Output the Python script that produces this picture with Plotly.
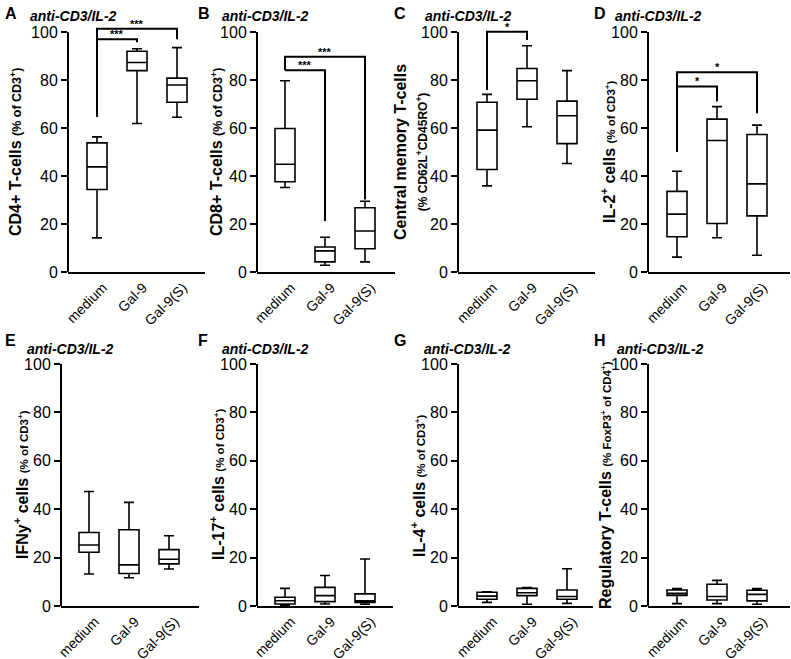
import plotly.graph_objects as go

groups = ["medium", "Gal-9", "Gal-9(S)"]
letters = ["A", "B", "C", "D", "E", "F", "G", "H"]
stim = "anti-CD3/IL-2"

y_titles = [
    "<b>CD4+ T-cells <span style='font-size:12.5px'>(% of CD3<sup>+</sup>)</span></b>",
    "<b>CD8+ T-cells <span style='font-size:12.5px'>(% of CD3<sup>+</sup>)</span></b>",
    "<b>Central memory T-cells<br><span style='font-size:12px'>(% CD62L<sup>+</sup>CD45RO<sup>+</sup>)</span></b>",
    "<b>IL-2<sup>+</sup> cells <span style='font-size:11.5px'>(% of CD3<sup>+</sup>)</span></b>",
    "<b>IFNy<sup>+</sup> cells <span style='font-size:11.5px'>(% of CD3<sup>+</sup>)</span></b>",
    "<b>IL-17<sup>+</sup> cells <span style='font-size:11.5px'>(% of CD3<sup>+</sup>)</span></b>",
    "<b>IL-4<sup>+</sup> cells <span style='font-size:11.5px'>(% of CD3<sup>+</sup>)</span></b>",
    "<b>Regulatory T-cells <span style='font-size:11.5px'>(% FoxP3<sup>+</sup> of CD4<sup>+</sup>)</span></b>",
]

# whisker low, Q1, median, Q3, whisker high  (medium, Gal-9, Gal-9(S))
cd4_lo = [14.2, 61.9, 64.5]
cd4_q1 = [34.4, 83.9, 70.7]
cd4_med = [43.8, 87.3, 77.9]
cd4_q3 = [53.8, 92.0, 80.8]
cd4_hi = [56.3, 93.0, 93.5]

cd8_lo = [35.2, 2.8, 4.2]
cd8_q1 = [37.6, 4.2, 9.7]
cd8_med = [44.9, 8.8, 17.1]
cd8_q3 = [59.8, 10.4, 26.8]
cd8_hi = [79.7, 14.5, 29.5]

tcm_lo = [35.9, 60.5, 45.2]
tcm_q1 = [42.7, 72.0, 53.5]
tcm_med = [59.1, 79.7, 65.1]
tcm_q3 = [70.7, 84.8, 71.2]
tcm_hi = [74.0, 94.3, 83.9]

il2_lo = [6.2, 14.3, 7.0]
il2_q1 = [14.7, 20.2, 23.4]
il2_med = [24.1, 54.8, 36.7]
il2_q3 = [33.6, 63.7, 57.3]
il2_hi = [42.0, 68.9, 61.2]

ifn_lo = [13.2, 11.7, 15.3]
ifn_q1 = [22.2, 13.4, 17.4]
ifn_med = [25.2, 17.0, 19.3]
ifn_q3 = [30.4, 31.5, 23.3]
ifn_hi = [47.3, 42.8, 29.0]

il17_lo = [0.3, 0.8, 0.7]
il17_q1 = [0.8, 1.8, 1.5]
il17_med = [2.2, 4.3, 2.2]
il17_q3 = [3.6, 7.7, 5.0]
il17_hi = [7.3, 12.6, 19.4]

il4_lo = [1.5, 0.7, 1.1]
il4_q1 = [2.8, 4.3, 2.8]
il4_med = [4.1, 5.5, 3.9]
il4_q3 = [5.7, 7.3, 6.6]
il4_hi = [5.9, 7.6, 15.4]

treg_lo = [1.0, 1.0, 0.7]
treg_q1 = [4.4, 2.5, 2.1]
treg_med = [5.2, 3.9, 4.8]
treg_q3 = [6.6, 9.0, 6.5]
treg_hi = [7.2, 10.6, 7.2]

# significance brackets: (from, to, bracket height, left leg bottom, right leg bottom, label)
cd4_sig = [("medium", "Gal-9", 97.0, 64.7, 95.7, "***"),
           ("medium", "Gal-9(S)", 101.4, 64.7, 97.0, "***")]
cd8_sig = [("medium", "Gal-9", 84.1, 84.1, 21.3, "***"),
           ("medium", "Gal-9(S)", 89.7, 84.1, 30.2, "***")]
tcm_sig = [("medium", "Gal-9", 100.1, 75.8, 96.7, "*")]
il2_sig = [("medium", "Gal-9", 77.3, 50.0, 71.0, "*"),
           ("medium", "Gal-9(S)", 83.2, 50.0, 66.1, "*")]

panels = [
    (cd4_lo, cd4_q1, cd4_med, cd4_q3, cd4_hi, cd4_sig),
    (cd8_lo, cd8_q1, cd8_med, cd8_q3, cd8_hi, cd8_sig),
    (tcm_lo, tcm_q1, tcm_med, tcm_q3, tcm_hi, tcm_sig),
    (il2_lo, il2_q1, il2_med, il2_q3, il2_hi, il2_sig),
    (ifn_lo, ifn_q1, ifn_med, ifn_q3, ifn_hi, []),
    (il17_lo, il17_q1, il17_med, il17_q3, il17_hi, []),
    (il4_lo, il4_q1, il4_med, il4_q3, il4_hi, []),
    (treg_lo, treg_q1, treg_med, treg_q3, treg_hi, []),
]

W, H = 791, 659
FONT = "Liberation Sans, Arial, sans-serif"

# pixel layout of each panel: axis left, axis right, first box centre, y-title centre
x_px = [(68, 205, 97, 16), (257, 395, 285, 217), (458, 595, 487, 411), (648, 790, 677, 608),
        (61, 199, 89, 21), (257, 393, 285, 217), (458, 593, 487, 418), (648, 790, 677, 605)]
# row: y pixel of 0 and pixels per unit
row_px = [(272, 2.40), (606, 2.42)]
title_px = [(3, 28, 14, 16), (196, 220, 14, 16), (392, 423, 14, 16), (592, 613, 14, 16),
            (3, 25, 340, 349), (196, 220, 340, 349), (392, 422, 340, 349), (592, 615, 340, 349)]
YTOP = 104
STEP = 40.0


def px_x(v):
    return v / W


def px_y(v):
    return 1 - v / H


fig = go.Figure()
annotations = []
shapes = []

for i, (lo, q1, med, q3, hi, sig) in enumerate(panels):
    n = "" if i == 0 else str(i + 1)
    xa, ya = "x" + n, "y" + n
    fig.add_trace(go.Box(
        x=groups, lowerfence=lo, q1=q1, median=med, q3=q3, upperfence=hi,
        xaxis=xa, yaxis=ya, width=0.5, whiskerwidth=0.5,
        line=dict(color="black", width=1.6), fillcolor="white",
        boxpoints=False, hoverinfo="skip",
    ))
    for a, b, top, lb, rb, lab in sig:
        fig.add_trace(go.Scatter(
            x=[a, a, b, b], y=[lb, top, top, rb], mode="lines",
            line=dict(color="black", width=2), xaxis=xa, yaxis=ya,
            hoverinfo="skip",
        ))
        mid = (groups.index(a) + groups.index(b)) / 2
        annotations.append(dict(
            x=mid, y=top, xref=xa, yref=ya, text="<b>" + lab + "</b>",
            showarrow=False, yanchor="bottom", yshift=-3,
            font=dict(size=11, color="black", family=FONT),
        ))

    left, right, c0, tcx = x_px[i]
    y0, ppu = row_px[i // 4]
    xdom = [px_x(left), px_x(right)]
    ydom = [px_y(y0), px_y(y0 - YTOP * ppu)]
    xr = [-(c0 - left) / STEP, (right - c0) / STEP]
    fig.update_layout(**{
        "xaxis" + n: dict(domain=xdom, range=xr, type="category", anchor=ya,
                          automargin=False,
                          showline=True, linecolor="black", linewidth=2,
                          ticks="", tickangle=-45, ticklabelshift=6,
                          showgrid=False, zeroline=False,
                          tickfont=dict(size=14, color="black", family=FONT)),
        "yaxis" + n: dict(domain=ydom, range=[0, YTOP], anchor=xa,
                          automargin=False,
                          tickvals=[0, 20, 40, 60, 80, 100], showline=False,
                          ticks="outside", ticklen=6, tickwidth=2, tickcolor="black",
                          showgrid=False, zeroline=False,
                          tickfont=dict(size=16, color="black", family=FONT)),
    })
    shapes.append(dict(type="line", xref=xa + " domain", yref=ya,
                       x0=0, x1=0, y0=0, y1=100,
                       line=dict(color="black", width=2)))

    # y-axis title
    annotations.append(dict(x=px_x(tcx), y=px_y(y0 - 50 * ppu),
                            xref="paper", yref="paper", text=y_titles[i],
                            textangle=-90, showarrow=False,
                            xanchor="center", yanchor="middle",
                            font=dict(size=16, color="black", family=FONT)))

    lx, tx, ly, ty = title_px[i]
    annotations.append(dict(x=px_x(lx), y=px_y(ly), xref="paper", yref="paper",
                            text="<b>" + letters[i] + "</b>", showarrow=False,
                            xanchor="left", yanchor="middle",
                            font=dict(size=16, color="black", family=FONT)))
    annotations.append(dict(x=px_x(tx), y=px_y(ty), xref="paper", yref="paper",
                            text="<b><i>" + stim + "</i></b>", showarrow=False,
                            xanchor="left", yanchor="middle",
                            font=dict(size=14, color="black", family=FONT)))

fig.update_layout(
    width=W, height=H, margin=dict(l=0, r=0, t=0, b=0),
    paper_bgcolor="white", plot_bgcolor="white", showlegend=False,
    annotations=annotations, shapes=shapes,
)

# drop the browser's default 8 px body margin so the figure fills the window
fig.write_html("out.html", config={"displayModeBar": False},
               post_script="document.body.style.margin = '0px';")
